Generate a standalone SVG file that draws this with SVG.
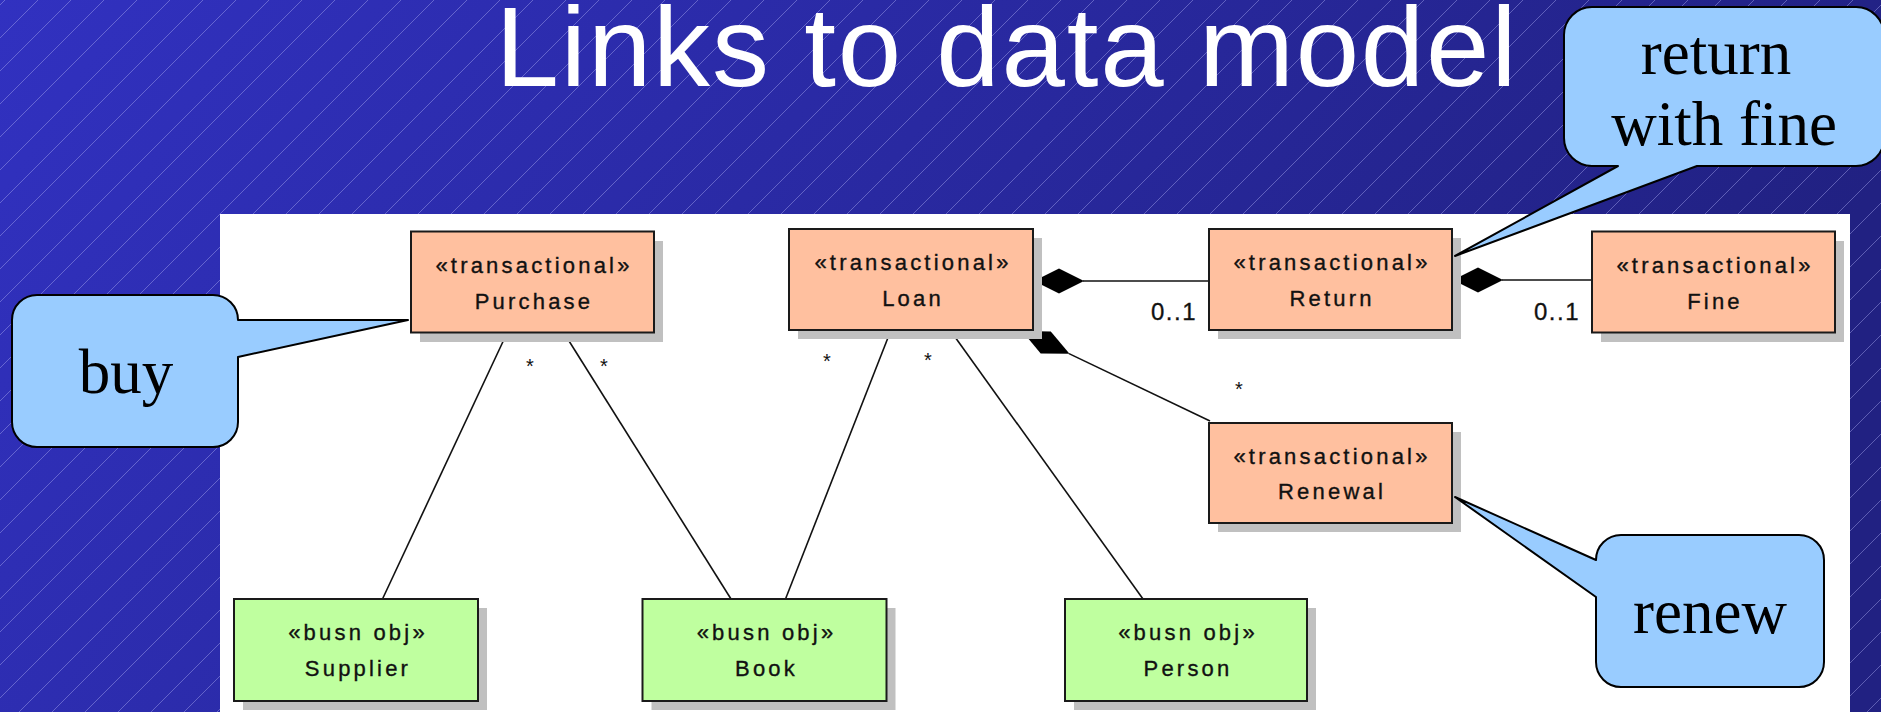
<svg xmlns="http://www.w3.org/2000/svg" width="1881" height="712" viewBox="0 0 1881 712">
  <defs>
    <linearGradient id="bgGrad" x1="0" y1="0" x2="1" y2="0.25">
      <stop offset="0" stop-color="#3131c0"/>
      <stop offset="1" stop-color="#212182"/>
    </linearGradient>
    <pattern id="hatch" patternUnits="userSpaceOnUse" x="5" y="0" width="33" height="33">
      <path d="M-2,35 L35,-2 M-2,2 L2,-2 M31,35 L35,31" stroke="#a8a8f0" stroke-opacity="0.45" stroke-width="1" fill="none"/>
    </pattern>
    <style>
      .title { font-family: "Liberation Sans", Arial, sans-serif; font-size: 114px; letter-spacing: 1.8px; fill: #ffffff; }
      .shadow { fill: #c0c0c0; }
      .trans { fill: #ffc09f; stroke: #1a1a1a; stroke-width: 2; }
      .busn { fill: #bfff9f; stroke: #1a1a1a; stroke-width: 2; }
      .lbl { font-family: "Liberation Sans", Arial, sans-serif; font-size: 22px; letter-spacing: 3.2px; fill: #111111; stroke: #111111; stroke-width: 0.35; text-anchor: middle; }
      .assoc { stroke: #111111; stroke-width: 1.6; fill: none; }
      .comp { fill: #000000; }
      .mult { font-family: "Liberation Sans", Arial, sans-serif; font-size: 24px; letter-spacing: 1.5px; fill: #111111; stroke: #111111; stroke-width: 0.3; text-anchor: end; }
      .star { font-family: "Liberation Sans", Arial, sans-serif; font-size: 20px; fill: #111111; text-anchor: middle; }
      .bubble { fill: #99ccff; stroke: #000000; stroke-width: 2; stroke-linejoin: round; }
      .note { font-family: "Liberation Serif", "Times New Roman", serif; font-size: 63px; fill: #000000; text-anchor: middle; }
    </style>
  </defs>

  <!-- slide background -->
  <rect x="0" y="0" width="1881" height="712" fill="url(#bgGrad)"/>
  <rect x="0" y="0" width="1881" height="712" fill="url(#hatch)"/>

  <text class="title" x="1007" y="86" text-anchor="middle">Links to data model</text>

  <!-- diagram canvas -->
  <rect x="220" y="214" width="1630" height="498" fill="#ffffff"/>

  <!-- associations and compositions -->
  <g id="connectors">
    <line class="assoc" x1="507" y1="333" x2="382.5" y2="599"/>
    <line class="assoc" x1="564" y1="333" x2="731" y2="599"/>
    <line class="assoc" x1="891" y1="330" x2="785.5" y2="599"/>
    <line class="assoc" x1="950" y1="330" x2="1143" y2="599"/>

    <line class="assoc" x1="1083" y1="281" x2="1209" y2="281"/>
    <polygon class="comp" points="1034,281 1059,268.5 1084,281 1059,293.5"/>

    <line class="assoc" x1="1502" y1="280" x2="1592" y2="280"/>
    <polygon class="comp" points="1453,280 1478,267.5 1503,280 1478,292.5"/>

    <line class="assoc" x1="1069" y1="353.6" x2="1210" y2="421"/>
    <polygon class="comp" points="1022,331 1050.8,331.4 1069.5,353.8 1040.7,353.4"/>

    <text class="star" x="530" y="373">*</text>
    <text class="star" x="604" y="373">*</text>
    <text class="star" x="827" y="368">*</text>
    <text class="star" x="928" y="367">*</text>
    <text class="star" x="1239" y="396">*</text>
    <text class="mult" x="1197" y="320">0..1</text>
    <text class="mult" x="1580" y="320">0..1</text>
  </g>

  <g id="node-purchase">
    <rect class="shadow" x="420" y="241" width="243" height="101"/>
    <rect class="trans" x="411" y="231.5" width="243" height="101"/>
    <text class="lbl" x="534" y="272.5">«transactional»</text>
    <text class="lbl" x="534" y="308.5">Purchase</text>
  </g>

  <g id="node-loan">
    <rect class="shadow" x="798" y="238" width="244" height="101"/>
    <rect class="trans" x="789" y="229" width="244" height="101"/>
    <text class="lbl" x="913" y="270">«transactional»</text>
    <text class="lbl" x="913" y="306">Loan</text>
  </g>

  <g id="node-return">
    <rect class="shadow" x="1218" y="238" width="243" height="101"/>
    <rect class="trans" x="1209" y="229" width="243" height="101"/>
    <text class="lbl" x="1332" y="270">«transactional»</text>
    <text class="lbl" x="1332" y="306">Return</text>
  </g>

  <g id="node-fine">
    <rect class="shadow" x="1601" y="241" width="243" height="101"/>
    <rect class="trans" x="1592" y="231.5" width="243" height="101"/>
    <text class="lbl" x="1715" y="272.5">«transactional»</text>
    <text class="lbl" x="1715" y="308.5">Fine</text>
  </g>

  <g id="node-renewal">
    <rect class="shadow" x="1218" y="432" width="243" height="100"/>
    <rect class="trans" x="1209" y="423" width="243" height="100"/>
    <text class="lbl" x="1332" y="464">«transactional»</text>
    <text class="lbl" x="1332" y="499">Renewal</text>
  </g>

  <g id="node-supplier">
    <rect class="shadow" x="243" y="608" width="244" height="102"/>
    <rect class="busn" x="234" y="599" width="244" height="102"/>
    <text class="lbl" x="358" y="640">«busn obj»</text>
    <text class="lbl" x="358" y="676">Supplier</text>
  </g>

  <g id="node-book">
    <rect class="shadow" x="651.5" y="608" width="244" height="102"/>
    <rect class="busn" x="642.5" y="599" width="244" height="102"/>
    <text class="lbl" x="766.5" y="640">«busn obj»</text>
    <text class="lbl" x="766.5" y="676">Book</text>
  </g>

  <g id="node-person">
    <rect class="shadow" x="1074" y="608" width="242" height="102"/>
    <rect class="busn" x="1065" y="599" width="242" height="102"/>
    <text class="lbl" x="1188" y="640">«busn obj»</text>
    <text class="lbl" x="1188" y="676">Person</text>
  </g>

  <!-- speech-bubble annotations -->
  <g id="callout-buy">
    <path class="bubble" d="M37,295 H213 A25,25 0 0 1 238,320 L408,320 L238,357 V422 A25,25 0 0 1 213,447 H37 A25,25 0 0 1 12,422 V320 A25,25 0 0 1 37,295 Z"/>
    <text class="note" x="126" y="393">buy</text>
  </g>

  <g id="callout-return">
    <path class="bubble" d="M1592,7 H1856 A28,28 0 0 1 1884,35 V138 A28,28 0 0 1 1856,166 H1697 L1455,256 L1618,166 H1592 A28,28 0 0 1 1564,138 V35 A28,28 0 0 1 1592,7 Z"/>
    <text class="note" x="1716" y="74">return</text>
    <text class="note" x="1724" y="145">with fine</text>
  </g>

  <g id="callout-renew">
    <path class="bubble" d="M1621,535 H1799 A25,25 0 0 1 1824,560 V662 A25,25 0 0 1 1799,687 H1621 A25,25 0 0 1 1596,662 V597 L1455,497 L1596,560 A25,25 0 0 1 1621,535 Z"/>
    <text class="note" x="1710" y="633">renew</text>
  </g>
</svg>
